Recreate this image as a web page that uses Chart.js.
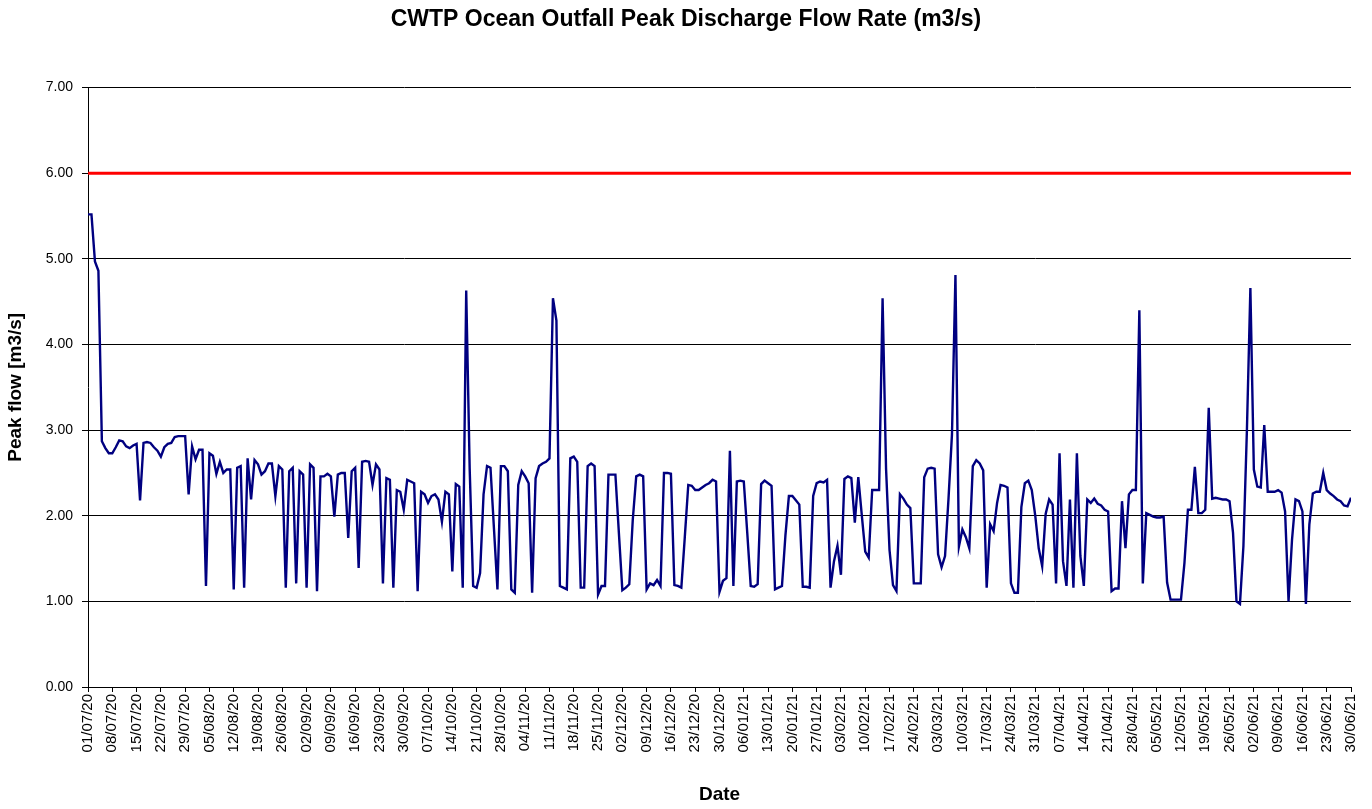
<!doctype html>
<html><head>
<meta charset="utf-8">
<title>CWTP Ocean Outfall Peak Discharge Flow Rate</title>
<script src="https://cdn.jsdelivr.net/npm/chart.js"></script>
<style>
  body { margin: 0; background: #fff; }
  #wrap { width: 1372px; height: 809px; }
</style>
</head>
<body>
<div id="wrap"><canvas id="myChart" width="1372" height="809"></canvas></div>
<script>
// daily peak flow (m3/s), one array per month, 01/07/20 .. 30/06/21
var jul20 = [5.52,5.52,4.97,4.86,2.87,2.79,2.73,2.73,2.80,2.88,2.87,2.81,2.79,2.82,2.84,2.18,2.85,2.86,2.85,2.80,2.76,2.69,2.80,2.84,2.85,2.92,2.93,2.93,2.93,2.25,2.81];
var aug20 = [2.66,2.77,2.77,1.18,2.73,2.70,2.49,2.63,2.50,2.54,2.54,1.14,2.56,2.58,1.16,2.67,2.19,2.65,2.60,2.48,2.52,2.61,2.61,2.23,2.58,2.54,1.16,2.52,2.56,1.21,2.52];
var sep20 = [2.48,1.16,2.60,2.56,1.12,2.46,2.46,2.49,2.46,1.99,2.48,2.50,2.50,1.74,2.52,2.56,1.39,2.63,2.64,2.63,2.36,2.60,2.54,1.21,2.44,2.42,1.16,2.30,2.28,2.07];
var oct20 = [2.42,2.40,2.38,1.12,2.28,2.25,2.15,2.23,2.25,2.19,1.93,2.28,2.25,1.35,2.37,2.34,1.16,4.63,2.55,1.18,1.16,1.33,2.25,2.58,2.56,1.85,1.14,2.58,2.58,2.52,1.14];
var nov20 = [1.10,2.36,2.52,2.46,2.38,1.10,2.44,2.58,2.61,2.63,2.67,4.54,4.28,1.18,1.16,1.14,2.67,2.69,2.63,1.16,1.16,2.58,2.61,2.58,1.08,1.18,1.18,2.48,2.48,2.48];
var dec20 = [1.80,1.13,1.16,1.20,1.95,2.46,2.48,2.46,1.14,1.21,1.19,1.25,1.18,2.50,2.50,2.49,1.19,1.18,1.16,1.75,2.36,2.35,2.30,2.30,2.33,2.36,2.38,2.42,2.40,1.11,1.24];
var jan21 = [1.27,2.76,1.18,2.40,2.41,2.40,1.80,1.18,1.17,1.20,2.37,2.41,2.38,2.35,1.14,1.16,1.18,1.77,2.23,2.23,2.18,2.13,1.17,1.17,1.16,2.23,2.38,2.40,2.39,2.42,1.16];
var feb21 = [1.47,1.65,1.31,2.43,2.46,2.44,1.92,2.45,2.01,1.58,1.51,2.30,2.30,2.30,4.54,2.55,1.60,1.19,1.12,2.25,2.20,2.13,2.09,1.21,1.21,1.21,2.45,2.55];
var mar21 = [2.56,2.55,1.55,1.40,1.53,2.20,2.95,4.81,1.64,1.84,1.75,1.62,2.58,2.65,2.61,2.53,1.16,1.90,1.82,2.15,2.36,2.35,2.33,1.21,1.10,1.10,2.10,2.38,2.41,2.30,2.00];
var apr21 = [1.62,1.41,2.02,2.19,2.13,1.21,2.73,1.47,1.18,2.19,1.16,2.73,1.53,1.18,2.19,2.15,2.20,2.14,2.12,2.07,2.05,1.12,1.15,1.15,2.17,1.62,2.25,2.30,2.30,4.40];
var may21 = [1.21,2.03,2.01,1.99,1.98,1.98,1.99,1.22,1.02,1.02,1.02,1.02,1.45,2.07,2.07,2.57,2.03,2.03,2.07,3.26,2.20,2.21,2.20,2.19,2.19,2.17,1.80,1.00,0.97,1.65,3.00];
var jun21 = [4.66,2.54,2.34,2.33,3.06,2.28,2.28,2.28,2.30,2.27,2.05,1.00,1.72,2.19,2.17,2.05,0.97,1.90,2.26,2.28,2.28,2.50,2.30,2.26,2.23,2.19,2.17,2.12,2.11,2.21];

// weekly tick labels on the date axis
var tickLabels = ['01/07/20','08/07/20','15/07/20','22/07/20','29/07/20','05/08/20','12/08/20','19/08/20','26/08/20',
  '02/09/20','09/09/20','16/09/20','23/09/20','30/09/20','07/10/20','14/10/20','21/10/20','28/10/20',
  '04/11/20','11/11/20','18/11/20','25/11/20','02/12/20','09/12/20','16/12/20','23/12/20','30/12/20',
  '06/01/21','13/01/21','20/01/21','27/01/21','03/02/21','10/02/21','17/02/21','24/02/21',
  '03/03/21','10/03/21','17/03/21','24/03/21','31/03/21','07/04/21','14/04/21','21/04/21','28/04/21',
  '05/05/21','12/05/21','19/05/21','26/05/21','02/06/21','09/06/21','16/06/21','23/06/21','30/06/21'];

var yTicks = [0, 1, 2, 3, 4, 5, 6, 7];
var limitFlow = 6.00;

var flows = [].concat(jul20, aug20, sep20, oct20, nov20, dec20, jan21, feb21, mar21, apr21, may21, jun21);
var lastDay = flows.length - 1;

var flowPoints = flows.map(function (v, i) { return { x: i, y: v }; });
var limitPoints = [{ x: 0, y: limitFlow }, { x: lastDay, y: limitFlow }];

var FONT = "'Liberation Sans', Arial, sans-serif";
Chart.defaults.font.family = FONT;
Chart.defaults.color = '#000';

var ctx = document.getElementById('myChart');
var myChart = new Chart(ctx, {
  type: 'line',
  data: {
    datasets: [
      {
        label: 'Limit',
        data: limitPoints,
        borderColor: '#ff0000',
        borderWidth: 3,
        pointRadius: 0,
        fill: false
      },
      {
        label: 'Peak flow',
        data: flowPoints,
        borderColor: '#000080',
        borderWidth: 2.4,
        pointRadius: 0,
        tension: 0,
        fill: false
      }
    ]
  },
  options: {
    responsive: false,
    animation: false,
    devicePixelRatio: 1,
    layout: { padding: 0 },
    plugins: {
      legend: { display: false },
      tooltip: { enabled: false },
      title: {
        display: true,
        text: 'CWTP Ocean Outfall Peak Discharge Flow Rate (m3/s)',
        color: '#000',
        font: { family: FONT, size: 23, weight: 'bold' },
        padding: { top: 6, bottom: 54 }
      }
    },
    scales: {
      x: {
        type: 'linear',
        min: 0,
        max: lastDay,
        afterBuildTicks: function (scale) {
          scale.ticks = tickLabels.map(function (t, i) { return { value: i * 7 }; });
        },
        afterFit: function (scale) {
          scale.height = 122;
          scale.paddingRight = 21;   // keep plot right edge off the canvas edge
        },
        ticks: {
          autoSkip: false,
          maxRotation: 90,
          minRotation: 90,
          padding: 2,
          color: '#000',
          font: { size: 15 },
          callback: function (value) { return tickLabels[Math.round(value / 7)]; }
        },
        grid: { drawOnChartArea: false, drawTicks: true, tickLength: 5, color: '#000' },
        border: { display: true, color: '#000', width: 1 },
        title: {
          display: true,
          text: 'Date',
          color: '#000',
          font: { size: 19, weight: 'bold' },
          padding: { top: 0, bottom: 3 }
        }
      },
      y: {
        min: 0,
        max: 7,
        afterBuildTicks: function (scale) {
          scale.ticks = yTicks.map(function (v) { return { value: v }; });
        },
        afterFit: function (scale) { scale.width = 88; },
        ticks: {
          padding: 9,
          color: '#000',
          font: { size: 14 },
          callback: function (value) { return Number(value).toFixed(2); }
        },
        grid: { color: '#000', lineWidth: 1, tickLength: 6 },
        border: { display: true, color: '#000', width: 1 },
        title: {
          display: true,
          text: 'Peak flow [m3/s]',
          color: '#000',
          font: { size: 19, weight: 'bold' },
          padding: { top: 4, bottom: 0 }
        }
      }
    }
  }
});
</script>
</body></html>
